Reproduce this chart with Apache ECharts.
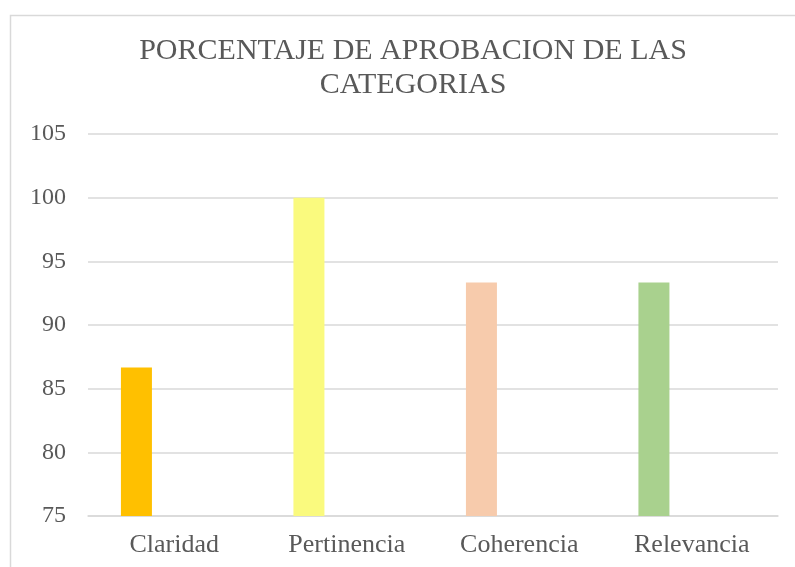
<!DOCTYPE html>
<html>
<head>
<meta charset="utf-8">
<script src="https://cdn.jsdelivr.net/npm/echarts@6/dist/echarts.min.js"></script>
<style>html,body{margin:0;padding:0;background:#fff;}#c{width:795px;height:567px;}</style>
</head>
<body>
<div id="c"></div>
<script>
var titleText = 'PORCENTAJE DE APROBACION DE LAS\nCATEGORIAS';
var categories = ['Claridad', 'Pertinencia', 'Coherencia', 'Relevancia'];
var values = [86.67, 100, 93.33, 93.33];
var emptyA = ['-', '-', '-', '-'];
var emptyB = ['-', '-', '-', '-'];
var barColors = ['#FFC000', '#FAFA7E', '#F7CBAC', '#A9D18E'];
var yTicks = { min: 75, max: 105, interval: 5 };

var chart = echarts.init(document.getElementById('c'));
var font = '"Liberation Serif", "DejaVu Serif", serif';
chart.setOption({
  animation: false,
  backgroundColor: '#ffffff',
  graphic: [{
    type: 'rect', left: 8, top: 13, z: -1,
    shape: { width: 820, height: 600 },
    style: { fill: 'none', stroke: '#d9d9d9', lineWidth: 1.5 }
  }],
  title: {
    text: titleText,
    left: 408, top: 29, textAlign: 'center',
    textStyle: { fontFamily: font, fontSize: 30, fontWeight: 'normal', color: '#595959', lineHeight: 34 }
  },
  grid: { left: 88, right: 17, top: 134, bottom: 51 },
  xAxis: {
    type: 'category', data: categories,
    axisLine: { lineStyle: { color: '#d9d9d9', width: 1.5 } },
    axisTick: { show: false },
    axisLabel: { fontFamily: font, fontSize: 26, color: '#595959', margin: 16 }
  },
  yAxis: {
    type: 'value', min: yTicks.min, max: yTicks.max, interval: yTicks.interval,
    axisLine: { show: false }, axisTick: { show: false },
    splitLine: { lineStyle: { color: '#d9d9d9', width: 1.5 } },
    axisLabel: { fontFamily: font, fontSize: 24, color: '#595959', margin: 22 }
  },
  series: [
    { name: 'Porcentaje', type: 'bar', barWidth: 31, barGap: '22%',
      data: values.map(function (v, i) { return { value: v, itemStyle: { color: barColors[i] } }; }) },
    { name: 'A', type: 'bar', barWidth: 31, barGap: '22%', data: emptyA },
    { name: 'B', type: 'bar', barWidth: 31, barGap: '22%', data: emptyB }
  ]
});
</script>
</body>
</html>
